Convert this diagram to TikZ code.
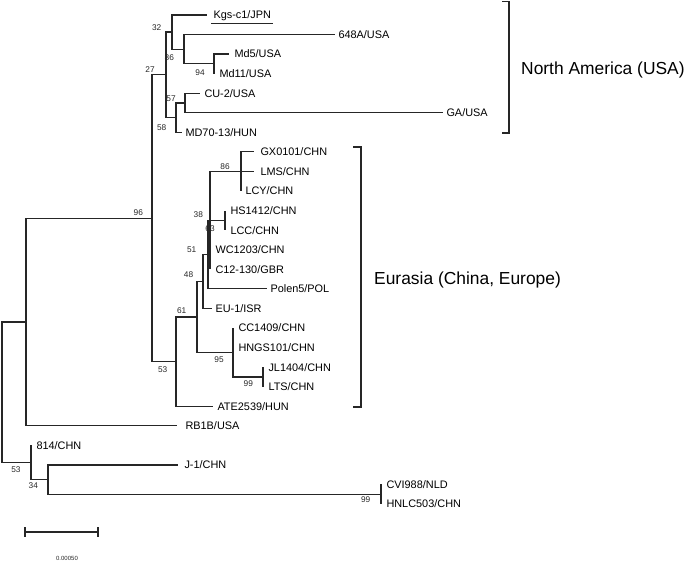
\documentclass[tikz,border=0pt]{standalone}
\usepackage{fontspec}
\setmainfont{Liberation Sans}
\begin{document}
\begin{tikzpicture}[x=1pt,y=-1pt,
  br/.style={line width=1.2pt, draw=black!85},
  brk/.style={line width=1.4pt, draw=black!85},
  leaf/.style={anchor=west, inner sep=0pt, outer sep=0pt, font=\fontsize{10.9}{12}\selectfont, text height=7.8pt, text depth=0pt},
  boot/.style={inner sep=0pt, font=\fontsize{8.3}{9}\selectfont, text=black!85},
  clade/.style={anchor=west, inner sep=0pt, font=\fontsize{17.4}{20}\selectfont, text height=12.4pt, text depth=0pt},
  scl/.style={inner sep=0pt, font=\fontsize{6}{7}\selectfont, text=black!85}]
\useasboundingbox (0,0) rectangle (685,561);

% ---- internal nodes
\coordinate (root) at (2,392.2);
\coordinate (nA)   at (26,322);
\coordinate (n96)  at (152,218.3);
\coordinate (n27)  at (166,74.9);
\coordinate (n32)  at (172,32.1);
\coordinate (n36)  at (184,49.3);
\coordinate (n94)  at (214,63.9);
\coordinate (n58)  at (176,117.7);
\coordinate (n57)  at (185,103);
\coordinate (n53e) at (176,361.6);
\coordinate (n61)  at (197,317);
\coordinate (n48)  at (203,281.5);
\coordinate (n51)  at (208,254.6);
\coordinate (n38)  at (210,220.4);
\coordinate (n86)  at (241,171.5);
\coordinate (n63)  at (225,220.4);
\coordinate (n95)  at (233,352.4);
\coordinate (n99)  at (263,376.9);
\coordinate (n53r) at (31,462.4);
\coordinate (n34)  at (48,479.6);
\coordinate (n99b) at (381,494.2);

% ---- branch tips
\coordinate (tKgs)   at (207,15);
\coordinate (t648)   at (335,34.6);
\coordinate (tMd5)   at (229,54.1);
\coordinate (tMd11)  at (214,73.7);
\coordinate (tCU2)   at (200,93.2);
\coordinate (tGA)    at (443,112.8);
\coordinate (tMD70)  at (182,132.4);
\coordinate (tGX)    at (254,151.9);
\coordinate (tLMS)   at (254,171.5);
\coordinate (tLCY)   at (241,191);
\coordinate (tHS)    at (225,210.6);
\coordinate (tLCC)   at (225,230.2);
\coordinate (tWC)    at (210,249.7);
\coordinate (tC12)   at (210,269.3);
\coordinate (tPolen) at (267,288.8);
\coordinate (tEU)    at (212,308.4);
\coordinate (tCC)    at (233,328);
\coordinate (tHNGS)  at (233,347.5);
\coordinate (tJL)    at (263,367.1);
\coordinate (tLTS)   at (263,386.6);
\coordinate (tATE)   at (213,406.2);
\coordinate (tRB1B)  at (177,425.8);
\coordinate (t814)   at (31,445.3);
\coordinate (tJ1)    at (178,464.9);
\coordinate (tCVI)   at (381,484.4);
\coordinate (tHNLC)  at (381,504);

% ---- branches
\draw[br] (root) |- (nA);
\draw[br] (root) |- (n53r);
\draw[br] (nA) |- (n96);
\draw[br] (nA) |- (tRB1B);
\draw[br] (n96) |- (n27);
\draw[br] (n96) |- (n53e);
\draw[br] (n27) |- (n32);
\draw[br] (n27) |- (n58);
\draw[br] (n32) |- (tKgs);
\draw[br] (n32) |- (n36);
\draw[br] (n36) |- (t648);
\draw[br] (n36) |- (n94);
\draw[br] (n94) |- (tMd5);
\draw[br] (n94) |- (tMd11);
\draw[br] (n58) |- (n57);
\draw[br] (n58) |- (tMD70);
\draw[br] (n57) |- (tCU2);
\draw[br] (n57) |- (tGA);
\draw[br] (n53e) |- (n61);
\draw[br] (n53e) |- (tATE);
\draw[br] (n61) |- (n48);
\draw[br] (n61) |- (n95);
\draw[br] (n48) |- (n51);
\draw[br] (n48) |- (tEU);
\draw[br] (n51) |- (n38);
\draw[br] (n51) |- (tPolen);
\draw[br] (n38) |- (n86);
\draw[br] (n38) |- (n63);
\draw[br] (n38) |- (tWC);
\draw[br] (n38) |- (tC12);
\draw[br] (n86) |- (tGX);
\draw[br] (n86) |- (tLMS);
\draw[br] (n86) |- (tLCY);
\draw[br] (n63) |- (tHS);
\draw[br] (n63) |- (tLCC);
\draw[br] (n95) |- (tCC);
\draw[br] (n95) |- (tHNGS);
\draw[br] (n95) |- (n99);
\draw[br] (n99) |- (tJL);
\draw[br] (n99) |- (tLTS);
\draw[br] (n53r) |- (t814);
\draw[br] (n53r) |- (n34);
\draw[br] (n34) |- (tJ1);
\draw[br] (n34) |- (n99b);
\draw[br] (n99b) |- (tCVI);
\draw[br] (n99b) |- (tHNLC);

% ---- leaf labels
\node[leaf] (lKgs)   at (213.5,15)    {Kgs-c1/JPN};
\node[leaf] (l648)   at (338.5,34.6)  {648A/USA};
\node[leaf] (lMd5)   at (234.5,54.1)  {Md5/USA};
\node[leaf] (lMd11)  at (219.5,73.7)  {Md11/USA};
\node[leaf] (lCU2)   at (204.5,93.2)  {CU-2/USA};
\node[leaf] (lGA)    at (446.5,112.8) {GA/USA};
\node[leaf] (lMD70)  at (185.5,132.4) {MD70-13/HUN};
\node[leaf] (lGX)    at (260.5,151.9) {GX0101/CHN};
\node[leaf] (lLMS)   at (260.5,171.5) {LMS/CHN};
\node[leaf] (lLCY)   at (245.5,191)   {LCY/CHN};
\node[leaf] (lHS)    at (230.5,210.6) {HS1412/CHN};
\node[leaf] (lLCC)   at (230.5,230.2) {LCC/CHN};
\node[leaf] (lWC)    at (215.5,249.7) {WC1203/CHN};
\node[leaf] (lC12)   at (215.5,269.3) {C12-130/GBR};
\node[leaf] (lPolen) at (270.5,288.8) {Polen5/POL};
\node[leaf] (lEU)    at (215.5,308.4) {EU-1/ISR};
\node[leaf] (lCC)    at (238.5,328)   {CC1409/CHN};
\node[leaf] (lHNGS)  at (238.5,347.5) {HNGS101/CHN};
\node[leaf] (lJL)    at (268.5,367.1) {JL1404/CHN};
\node[leaf] (lLTS)   at (268.5,386.6) {LTS/CHN};
\node[leaf] (lATE)   at (217.5,406.2) {ATE2539/HUN};
\node[leaf] (lRB1B)  at (185.5,425.8) {RB1B/USA};
\node[leaf] (l814)   at (36.5,445.3)  {814/CHN};
\node[leaf] (lJ1)    at (184.5,464.9) {J-1/CHN};
\node[leaf] (lCVI)   at (386.5,484.4) {CVI988/NLD};
\node[leaf] (lHNLC)  at (386.5,504)   {HNLC503/CHN};

% underline of Kgs-c1/JPN
\coordinate (ulA) at (211,24);
\coordinate (ulB) at (273,24);
\draw[line width=1pt, draw=black!85] (ulA) -- (ulB);

% ---- bootstrap values
\node[boot] (b27)  at (150,70)    {27};
\node[boot] (b32)  at (156.7,27.7) {32};
\node[boot] (b36)  at (169.3,57.3) {36};
\node[boot] (b94)  at (200,72.7)  {94};
\node[boot] (b57)  at (171,98.3)  {57};
\node[boot] (b58)  at (161.7,127.7) {58};
\node[boot] (b96)  at (138.3,212.3) {96};
\node[boot] (b86)  at (225,166.7) {86};
\node[boot] (b38)  at (198.3,215) {38};
\node[boot] (b63)  at (210,228.3) {63};
\node[boot] (b51)  at (191.7,249.3) {51};
\node[boot] (b48)  at (188.5,275) {48};
\node[boot] (b61)  at (181.7,311) {61};
\node[boot] (b95)  at (219,359.3) {95};
\node[boot] (b99)  at (248.3,384) {99};
\node[boot] (b53e) at (162.7,369.3) {53};
\node[boot] (b53r) at (16,469.3)  {53};
\node[boot] (b34)  at (33.3,486)  {34};
\node[boot] (b99b) at (365.7,500) {99};

% ---- clade brackets
\coordinate (kNA1) at (502,1.5);
\coordinate (kNA2) at (509,1.5);
\coordinate (kNA3) at (509,133);
\coordinate (kNA4) at (502,133);
\draw[brk] (kNA1) -- (kNA2) -- (kNA3) -- (kNA4);
\node[clade] (cNA) at (521,68) {North America (USA)};

\coordinate (kEU1) at (353,147);
\coordinate (kEU2) at (361,147);
\coordinate (kEU3) at (361,407);
\coordinate (kEU4) at (353,407);
\draw[brk] (kEU1) -- (kEU2) -- (kEU3) -- (kEU4);
\node[clade] (cEU) at (374,278) {Eurasia (China, Europe)};

% ---- scale bar
\coordinate (sc1) at (25,532);
\coordinate (sc2) at (98,532);
\coordinate (sc1t) at (25,527);
\coordinate (sc1b) at (25,537);
\coordinate (sc2t) at (98,527);
\coordinate (sc2b) at (98,537);
\draw[br] (sc1) -- (sc2);
\draw[br] (sc1t) -- (sc1b);
\draw[br] (sc2t) -- (sc2b);
\node[scl] (scT) at (67,558) {0.00050};
\end{tikzpicture}
\end{document}
